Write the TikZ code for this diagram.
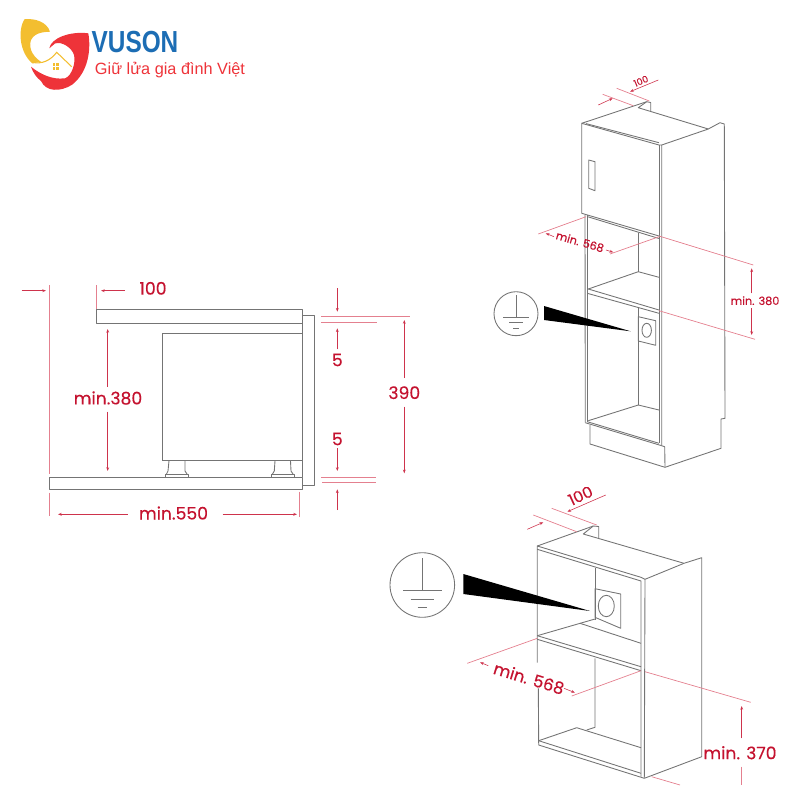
\documentclass[tikz,border=0pt]{standalone}
\usepackage{fontspec}
\usepackage{xcolor}
\usetikzlibrary{arrows.meta}
\newfontfamily\dimfont[FakeBold=0.35]{Poppins}
\newfontfamily\logofont{Liberation Sans}
\definecolor{dimred}{HTML}{C4122F}
\definecolor{dimline}{HTML}{E4808F}
\definecolor{unitgray}{HTML}{747474}
\definecolor{logoblue}{HTML}{1C6DB4}
\definecolor{logored}{HTML}{EE3339}
\definecolor{logoyellow}{HTML}{F3BE30}

\begin{document}
\begin{tikzpicture}[x=0.03cm,y=0.03cm,
  unit/.style={draw=unitgray,line width=0.75pt,line join=round},
  dim/.style={draw=dimline,line width=0.6pt},
  dimarrow/.style={draw=dimred!70!dimline,line width=0.5pt,-{Stealth[length=3.2pt,width=2.4pt]}},
  bigdim/.style={text=dimred,font=\dimfont\fontsize{14.7}{16}\selectfont},
  smalldim/.style={text=dimred,font=\dimfont\fontsize{9.6}{11}\selectfont},
  tinydim/.style={text=dimred,font=\dimfont\fontsize{8}{9}\selectfont}]
\tikzstyle{every node}+=[inner sep=0pt]
\useasboundingbox (0,0) rectangle (800,-800);
% logo
\fill [logoyellow] (24.3,-19.3) .. controls (35,-18) and (47,-22) .. (50,-31.7) .. controls (45,-32) and (35,-32) .. (31,-40) .. controls (27.7,-50) and (35,-58) .. (41.7,-62.3) .. controls (35,-62) and (33,-64) .. (32.3,-63.3) .. controls (19,-52) and (18,-30) .. (24.3,-19.3);
\draw [logoyellow,line width=0.9pt] (33,-62.5) .. controls (42,-64) and (50,-61) .. (56.7,-52.3) -- (71.7,-66.7);
\fill [logored] (49.3,-48.3) .. controls (51,-38) and (70,-31) .. (88.3,-33.3) .. controls (91,-48) and (89,-72) .. (71.7,-85) .. controls (60,-92) and (46,-92) .. (41,-81) .. controls (37,-78) and (33,-73) .. (31,-66.7) .. controls (40,-74) and (52,-80) .. (65,-78.3) .. controls (72,-76) and (76,-62) .. (74,-55) .. controls (72,-48) and (62,-41) .. (55,-43.5) -- cycle;
\fill [logoyellow] (52.5,-63) rectangle (58.7,-69.5);
\draw [white,line width=0.3pt] (55.6,-63) -- (55.6,-69.5) (52.5,-66.2) -- (58.7,-66.2);
\node (brandname) at (135,-42.5) [text=logoblue,xscale=0.8,font=\logofont\bfseries\fontsize{26}{27}\selectfont] {VUSON};
\node (tagline) at (170,-70.5) [text=logored,font=\logofont\fontsize{13.9}{15}\selectfont] {Giữ lửa gia đình Việt};
% side view
\draw [unit] (96,-309) rectangle (302,-323.3);
\draw [unit] (302,-315.7) -- (314.3,-315.7) -- (314.3,-485.7) -- (302,-485.7);
\draw [unit] (162.3,-460.7) -- (162.3,-333.3) -- (302,-333.3);
\draw [unit] (162.3,-460.7) -- (302,-460.7);
\draw [unit] (49.7,-477.3) rectangle (302,-489);
\draw [unit] (302,-323.3) -- (302,-477.3);
\draw [unit] (169,-460.7) -- (168,-471) -- (166.5,-474) (185,-460.7) -- (185,-471) -- (187,-474);
\draw [unit] (165.7,-477.3) -- (165.7,-474) -- (188.3,-474) -- (188.3,-477.3);
\draw [unit] (275,-460.7) -- (274.3,-471) -- (272.5,-474) (290.5,-460.7) -- (291,-471) -- (293,-474);
\draw [unit] (271.3,-477.3) -- (271.3,-474) -- (294,-474) -- (294,-477.3);
% side view dimensions
\draw [dim] (49.7,-285) -- (49.7,-474);
\draw [dim] (49.7,-492.7) -- (49.7,-516);
\draw [dim] (96,-285) -- (96,-309);
\draw [dim] (299,-491.7) -- (299,-516.7);
\draw [dim] (321,-316) -- (410,-316);
\draw [dim] (321,-322.7) -- (376.7,-322.7);
\draw [dim] (321,-477) -- (376,-477);
\draw [dim] (322,-482.7) -- (376,-482.7);
\draw [dimarrow] (21.7,-290.7) -- (46,-290.7);
\draw [dimarrow] (125,-290.7) -- (101,-290.7);
\node (widthtop) at (153,-288.3) [bigdim] {100};
\draw [dimarrow] (107.7,-386.7) -- (107.7,-329);
\draw [dimarrow] (107.7,-411.7) -- (107.7,-471);
\node (heightmin) at (108,-398) [bigdim] {min.380};
\node (depthmin) at (173.5,-513) [bigdim] {min.550};
\draw [dimarrow] (127.7,-514.3) -- (58,-514.3);
\draw [dimarrow] (222.7,-514.3) -- (297,-514.3);
\draw [dimarrow] (337.3,-288.3) -- (337.3,-311.7);
\draw [dimarrow] (337.3,-349.3) -- (337.3,-328.3);
\node (gaptop) at (337.3,-360) [bigdim] {5};
\node (gapbottom) at (337.3,-439) [bigdim] {5};
\draw [dimarrow] (337.3,-448) -- (337.3,-471);
\draw [dimarrow] (337.3,-510) -- (337.3,-489.3);
\node (heightall) at (404.3,-392.7) [bigdim] {390};
\draw [dimarrow] (404.3,-378) -- (404.3,-320);
\draw [dimarrow] (404.3,-406.7) -- (404.3,-473.3);
% tall cabinet
\draw [unit] (581.7,-123.3) -- (646.7,-101.7) -- (650.7,-102.5) -- (650.7,-111.7);
\draw [unit] (646.7,-101.7) -- (638.3,-107.7) -- (708.3,-129) -- (720,-122.7) -- (724.3,-124) -- (725,-418.3) -- (721,-419) -- (721,-448.3) -- (665,-467.3) -- (590,-444) -- (590,-425);
\draw [unit] (665,-467.3) -- (664.7,-446.7) -- (661.7,-445.7);
\draw [unit] (661.7,-145) -- (708.3,-129);
\draw [unit] (581.7,-213.3) -- (581.7,-123.3) -- (659,-145) -- (661.7,-145) -- (661.7,-445.7);
\draw [unit] (586,-123.6) -- (659,-142.7);
\draw [unit] (581.7,-213.3) -- (659,-236);
\draw [unit] (587,-216.5) -- (659,-238.5);
\draw [unit] (659,-145) -- (659,-443);
\draw [unit] (588.7,-160) -- (595,-161.7) -- (595,-190.7) -- (588.7,-188.3) -- cycle;
\draw [unit] (585,-215) -- (585.3,-422.7);
\draw [unit] (587.3,-215) -- (587.3,-421.7);
\draw [unit] (638.3,-232.7) -- (638.3,-271.7);
\draw [unit] (588.3,-289) -- (638.3,-271.7) -- (659,-277.3);
\draw [unit] (588.3,-289) -- (659,-310);
\draw [unit] (587.3,-293.3) -- (659,-313.3);
\draw [unit] (638.3,-308.3) -- (638.3,-405);
\draw [unit] (588.3,-420.7) -- (638.3,-405) -- (659,-410);
\draw [unit] (587.3,-421.7) -- (659,-443.3);
\draw [unit] (585.3,-422.7) -- (661.7,-445.7);
\draw [unit] (638.3,-316.7) -- (655.7,-320.7) -- (655.7,-345.3) -- (638.3,-341) -- cycle;
\draw [unit] (646.7,-330.3) ellipse (4.7 and 7);
% tall cabinet earth symbol
\draw [unit] (516,-313.7) circle (22);
\draw [unit] (516,-295) -- (516,-317.7);
\draw [unit] (503.3,-317.7) -- (529.3,-317.7);
\draw [unit] (509.3,-322.7) -- (523.3,-322.7);
\draw [unit] (513.3,-328.3) -- (519.3,-328.3);
\fill [black] (544,-306) -- (544,-320) -- (630.7,-331.3) -- cycle;
% tall cabinet dimensions
\draw [dim] (616.7,-88.3) -- (649.3,-101);
\draw [dim] (602.7,-94.3) -- (633.3,-105.7);
\draw [dimarrow] (598.3,-105) -- (612.7,-98.3);
\draw [dimarrow] (658.3,-80) -- (630,-91.7);
\node (tallhundred) at (641,-81) [tinydim,rotate=23] {100};
\draw [dim] (538.3,-234) -- (586,-216.7);
\draw [dimarrow] (554,-236.7) -- (545.7,-233.3);
\node (tallwidth) at (580,-241.7) [smalldim,rotate=-16] {min. 568};
\draw [dimarrow] (606,-250) -- (613.3,-252.3);
\draw [dim] (610,-254) -- (659,-236.7);
\draw [dim] (659,-236) -- (753.3,-265);
\draw [dimarrow] (751.7,-293.3) -- (751.7,-268.3);
\node (tallheight) at (755,-300.7) [smalldim] {min. 380};
\draw [dimarrow] (751.7,-308.3) -- (751.7,-335);
\draw [dim] (659,-310.7) -- (755,-339.3);
% low cabinet
\draw [unit] (537.3,-546) -- (593.3,-526) -- (598.7,-526.5) -- (598.7,-538.3);
\draw [unit] (593.3,-526) -- (583.3,-534) -- (684,-563.3) -- (701.7,-557.7) -- (701.7,-756.7) -- (644.3,-778.3);
\draw [unit] (645,-579.3) -- (684,-563.3);
\draw [unit] (537.3,-662.7) -- (537.3,-546) -- (641,-577.3) -- (645,-579.3) -- (644.3,-778.3);
\draw [unit] (537.3,-549.3) -- (641,-581) -- (641,-776.7);
\draw [unit] (595,-567.7) -- (595,-620);
\draw [unit] (537.3,-635.7) -- (595,-619);
\draw [unit] (580,-623.3) -- (641,-643.3);
\draw [unit] (595,-588.7) -- (620.7,-594) -- (620.7,-628.3) -- (595,-617.3) -- cycle;
\draw [unit] (606.3,-606) ellipse (8 and 10.7);
\draw [unit] (537.3,-635.7) -- (641,-666.7);
\draw [unit] (537.3,-639.3) -- (641,-670.7);
\draw [unit] (538.3,-688) -- (538.7,-745) -- (644.3,-778.3);
\draw [unit] (595,-658.3) -- (595,-727.3) -- (586.7,-730);
\draw [unit] (538.7,-740.7) -- (576.7,-727.7) -- (641,-747.7);
\draw [unit] (538.7,-740.7) -- (641,-773.3);
% low cabinet earth symbol
\draw [unit] (422.3,-585) circle (32.3);
\draw [unit] (422.3,-558.3) -- (422.3,-590);
\draw [unit] (403.3,-590) -- (441.7,-590);
\draw [unit] (410.7,-599) -- (434.3,-599);
\draw [unit] (417.7,-607) -- (426.7,-607);
\fill [black] (463.3,-574) -- (463.3,-594) -- (590,-611) -- cycle;
% low cabinet dimensions
\draw [dim] (551.7,-508.3) -- (596.7,-525);
\draw [dim] (533.3,-515) -- (576.7,-531.7);
\draw [dimarrow] (527.3,-529.3) -- (543.3,-522.3);
\draw [dimarrow] (605.7,-495) -- (567.3,-511.7);
\node (lowhundred) at (580.5,-495.5) [bigdim,rotate=25,font=\dimfont\fontsize{13.5}{15}\selectfont] {100};
\draw [dim] (467.3,-663.3) -- (537.3,-638.3);
\draw [dimarrow] (488.3,-665.7) -- (480,-662.3);
\node (lowwidth) at (529,-678.3) [bigdim,rotate=-17,font=\dimfont\fontsize{14.2}{16}\selectfont] {min. 568};
\draw [dimarrow] (564,-688.3) -- (575,-692.7);
\draw [dim] (571.7,-696) -- (641,-670.7);
\draw [dim] (645,-671.7) -- (750.7,-702.3);
\draw [dimarrow] (741.7,-738.3) -- (741.7,-706);
\node (lowheight) at (740,-752.7) [bigdim] {min. 370};
\draw [dim] (741.7,-766.7) -- (741.7,-785);
\draw [dim] (651.7,-776.7) -- (680,-785);
\end{tikzpicture}
\end{document}
